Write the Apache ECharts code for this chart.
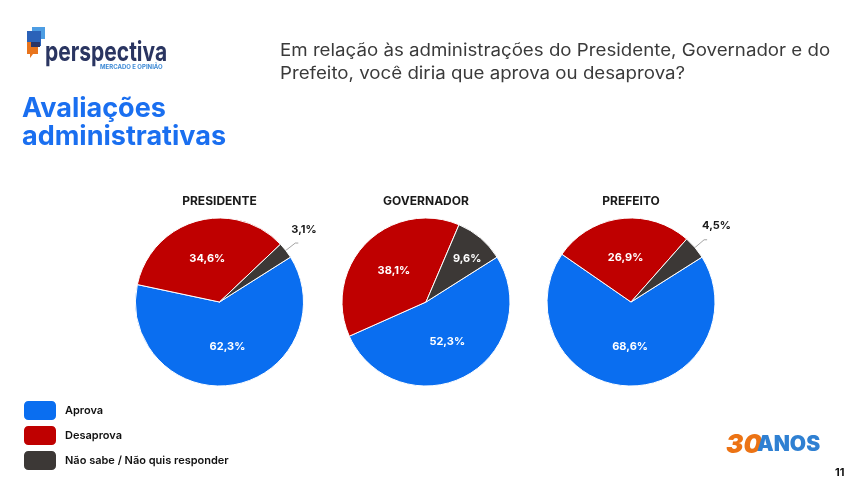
<!DOCTYPE html>
<html>
<head>
<meta charset="utf-8">
<script src="https://cdn.jsdelivr.net/npm/echarts@6/dist/echarts.min.js"></script>
<style>
html,body{margin:0;padding:0;background:#fff;}
#chart{width:852px;height:482px;}
</style>
</head>
<body>
<div id="chart"></div>
<script>
const categories = ['Aprova', 'Desaprova', 'Não sabe / Não quis responder'];
const panelTitles = ['PRESIDENTE', 'GOVERNADOR', 'PREFEITO'];
const presidente = [62.3, 34.6, 3.1];
const governador = [52.3, 38.1, 9.6];
const prefeito = [68.6, 26.9, 4.5];
const questionLines = ['Em relação às administrações do Presidente, Governador e do', 'Prefeito, você diria que aprova ou desaprova?'];
const headingLines = ['Avaliações', 'administrativas'];
const pageNumber = '11';

const colors = ['#0a6ef0', '#bf0000', '#3c3836'];
const FONT = 'Inter, "Noto Sans", sans-serif';
const centers = [[219.5, 302], [426, 302], [631, 302]];
const panels = [presidente, governador, prefeito];
// small slices labelled outside, with label offsets
const outsideIdx = [[2], [], [2]];
const labelShift = [{ 2: { dx: -9, dy: -13 } }, { 2: { dx: 12, dy: -9 } }, { 2: { dx: -7, dy: -14 } }];

const fmt = v => v.toFixed(1).replace('.', ',') + '%';

const series = panels.map((vals, p) => ({
  type: 'pie',
  name: panelTitles[p],
  center: centers[p],
  radius: 84,
  startAngle: 32.3,
  clockwise: true,
  avoidLabelOverlap: false,
  silent: true,
  itemStyle: { borderColor: '#ffffff', borderWidth: 1 },
  label: {
    position: 'inside',
    color: '#ffffff',
    fontSize: 11,
    fontWeight: 'bold',
    fontFamily: FONT,
    formatter: prm => fmt(prm.value)
  },
  labelLine: { show: false },
  labelLayout: prm => labelShift[p][prm.dataIndex] || {},
  data: vals.map((v, i) => {
    const item = { name: categories[i], value: v, itemStyle: { color: colors[i] } };
    if (outsideIdx[p].indexOf(i) >= 0) {
      item.label = { position: 'outside', color: '#1a1a1a', fontSize: 11, fontWeight: 'bold', distanceToLabelLine: 2 };
      item.labelLine = { show: true, length: 12, length2: 3, lineStyle: { color: '#8c8c8c', width: 0.8 } };
    }
    return item;
  })
}));

function txt(x, y, text, font, fill, extra) {
  return Object.assign({ type: 'text', x: x, y: y, style: { x: 0, y: 0, text: text, font: font, fill: fill, verticalAlign: 'top', align: 'left' } }, extra || {});
}

const graphic = [
  // logo marks
  { type: 'rect', shape: { x: 32, y: 27, width: 13, height: 12 }, style: { fill: '#4d9de3' } },
  { type: 'rect', shape: { x: 27, y: 31, width: 14, height: 15 }, style: { fill: '#2b62b8' } },
  { type: 'polygon', shape: { points: [[27, 42], [38, 42], [38, 54], [33, 54], [30, 58], [30, 54], [27, 54]] }, style: { fill: '#e8741c' } },
  { type: 'rect', shape: { x: 31, y: 42, width: 9, height: 5 }, style: { fill: '#2b3566' } },
  txt(45, 39, 'perspectiva', 'bold 21px ' + FONT, '#2a3561', { scaleY: 1.3 }),
  txt(100, 64, 'MERCADO E OPINIÃO', 'bold 6px ' + FONT, '#3d8ad6'),
  // heading
  txt(22, 95, headingLines[0], 'bold 27px ' + FONT, '#1a6ff0'),
  txt(22, 123, headingLines[1], 'bold 27px ' + FONT, '#1a6ff0'),
  // question
  txt(280, 42, questionLines[0], '17px ' + FONT, '#3a3a3a', { scaleX: 1.1 }),
  txt(280, 65, questionLines[1], '17px ' + FONT, '#3a3a3a', { scaleX: 1.1 }),
  // 30 anos
  txt(726, 432, '30', 'italic 900 26px ' + FONT, '#ec7314'),
  txt(757, 434, 'ANOS', '900 21px ' + FONT, '#2f80d2'),
  // page number
  txt(835, 467, pageNumber, 'bold 11px ' + FONT, '#111')
].concat(panelTitles.map((t, p) => ({
  type: 'text', x: centers[p][0], y: 195,
  style: { x: 0, y: 0, text: t, fill: '#1a1a1a', font: 'bold 12px ' + FONT, align: 'center', verticalAlign: 'top' }
})));

const chart = echarts.init(document.getElementById('chart'), null, { renderer: 'canvas' });
chart.setOption({
  animation: false,
  backgroundColor: '#ffffff',
  color: colors,
  legend: {
    orient: 'vertical',
    left: 22,
    top: 399,
    height: 80,
    padding: 0,
    icon: 'roundRect',
    itemWidth: 34,
    itemHeight: 21,
    itemGap: 2,
    selectedMode: false,
    data: categories,
    textStyle: { fontSize: 11, fontWeight: 600, color: '#111', fontFamily: FONT, padding: [0, 0, 0, 3] }
  },
  graphic: graphic,
  series: series
});
</script>
</body>
</html>
